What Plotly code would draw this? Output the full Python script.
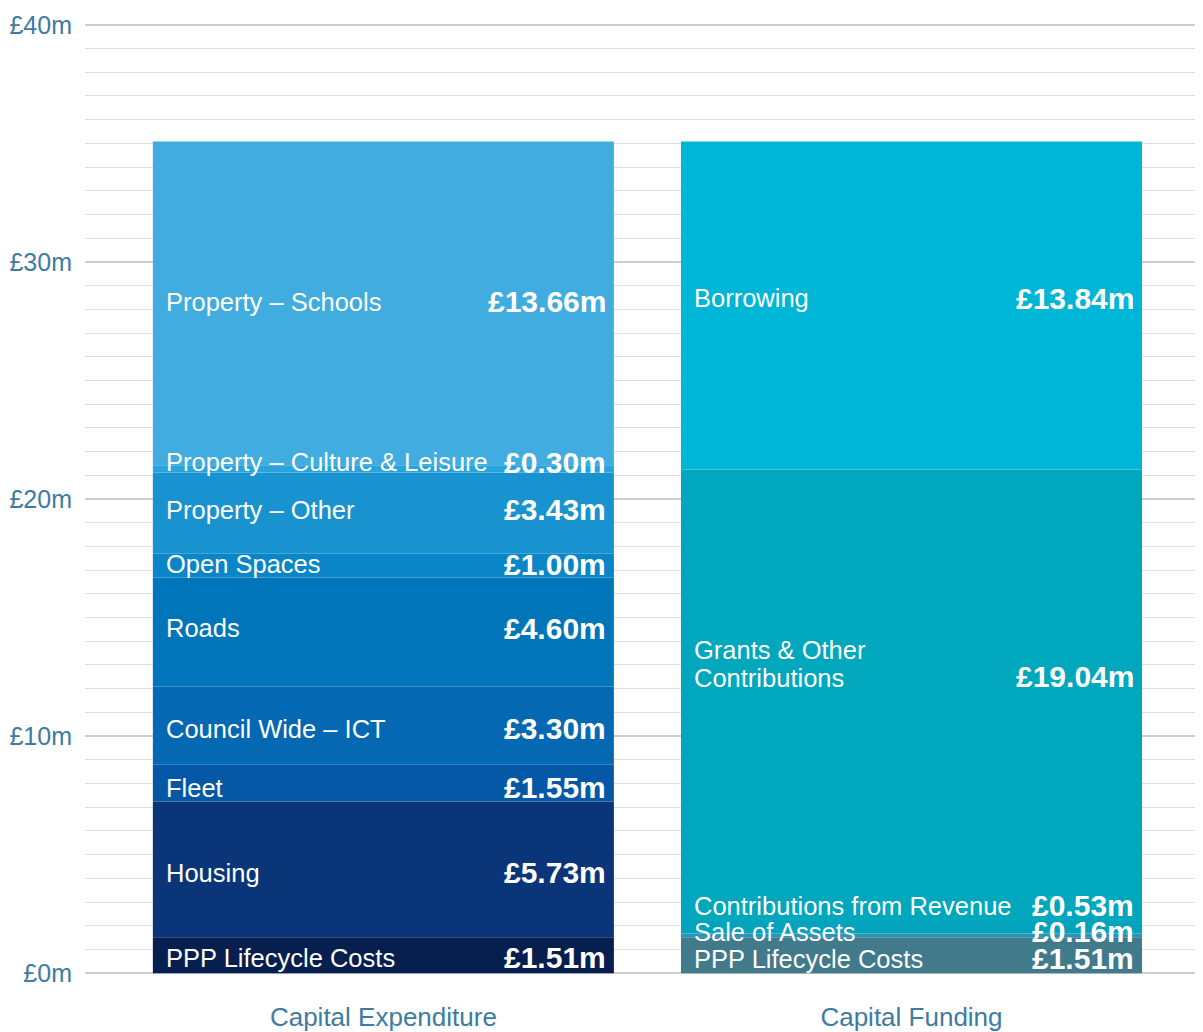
import plotly.graph_objects as go

# %% Data
bar_names = ["Capital Expenditure", "Capital Funding"]

exp_labels = ["PPP Lifecycle Costs", "Housing", "Fleet", "Council Wide – ICT", "Roads",
              "Open Spaces", "Property – Other", "Property – Culture & Leisure",
              "Property – Schools"]
exp_values = [1.51, 5.73, 1.55, 3.30, 4.60, 1.00, 3.43, 0.30, 13.66]

fund_labels = ["PPP Lifecycle Costs", "Sale of Assets", "Contributions from Revenue",
               "Grants & Other<br>Contributions", "Borrowing"]
fund_values = [1.51, 0.16, 0.53, 19.04, 13.84]

y_tickvals = [0, 10, 20, 30, 40]
y_ticktext = ["£0m", "£10m", "£20m", "£30m", "£40m"]

# %% Styles
exp_colors = ["#061f4f", "#0a3679", "#0558a6", "#0468b3", "#0075ba",
              "#0a86c8", "#1893d0", "#29a3db", "#41acdf"]
fund_colors = ["#417a8b", "#2a93b8", "#03a3be", "#00a7bd", "#00b6d6"]
# label nudges (in £m) so thin segments don't overlap
exp_offsets = [-0.1, -0.14, -0.2, -0.14, 0.16, 0.06, 0.15, 0.27, 0.07]
fund_offsets = [-0.14, 0.16, 0.91, 1.33, 0.3]

BAR_W = 0.873
TEXT_BLUE = "#3d7ba2"
LABEL_FONT = "Liberation Sans, Arial, sans-serif"
LINE_GAP = 28  # px between wrapped label lines

fig = go.Figure()
annotations = []


def add_stack(xpos, labels, values, colors, offsets):
    base = 0.0
    for lab, val, col, off in zip(labels, values, colors, offsets):
        fig.add_trace(go.Bar(
            x=[xpos], y=[val], base=[base], width=BAR_W,
            marker=dict(color=col, line=dict(width=0)),
            name=lab, showlegend=False, hoverinfo="skip"
        ))
        mid = base + val / 2 + off
        lines = lab.split("<br>")
        n = len(lines)
        for i, line in enumerate(lines):
            annotations.append(dict(
                x=xpos - BAR_W / 2, y=mid, xref="x", yref="y", xshift=11,
                yshift=((n - 1) / 2 - i) * LINE_GAP,
                text=line, showarrow=False, xanchor="left", yanchor="middle",
                align="left", font=dict(family=LABEL_FONT, size=25.5, color="white")
            ))
        annotations.append(dict(
            x=xpos + BAR_W / 2, y=mid, xref="x", yref="y", xshift=-6,
            yshift=-((n - 1) / 2) * LINE_GAP + (1 if n > 1 else 0),
            text=f"<b>£{val:.2f}m</b>", showarrow=False, xanchor="right",
            yanchor="middle", font=dict(family=LABEL_FONT, size=30, color="white")
        ))
        base += val


add_stack(0, exp_labels, exp_values, exp_colors, exp_offsets)
add_stack(1, fund_labels, fund_values, fund_colors, fund_offsets)

# page body has an 8px margin, so the figure is trimmed to fit the window
fig.update_layout(
    width=1195, height=1024,
    margin=dict(l=77, r=0, t=5, b=45),
    paper_bgcolor="white", plot_bgcolor="white",
    barmode="overlay",
    annotations=annotations,
    xaxis=dict(
        range=[-0.565, 1.552], tickvals=[0, 1], ticktext=bar_names,
        showgrid=False, zeroline=False, showline=False, ticks="",
        tickfont=dict(family="Liberation Sans Narrow, Arial Narrow, Liberation Sans, sans-serif",
                      size=26, color=TEXT_BLUE),
        ticklabelstandoff=14
    ),
    yaxis=dict(
        range=[-0.5, 40.5], tickvals=y_tickvals, ticktext=y_ticktext,
        showgrid=True, gridcolor="#cdcdcd", gridwidth=2,
        zeroline=False, showline=False, ticks="",
        tickfont=dict(family=LABEL_FONT, size=25, color=TEXT_BLUE),
        ticklabelstandoff=12,
        minor=dict(dtick=1, showgrid=True, gridcolor="#dedede", gridwidth=1)
    ),
)

fig.write_html("out.html")
